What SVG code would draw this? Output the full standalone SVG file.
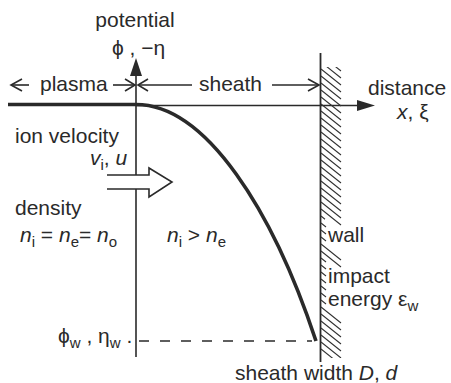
<svg xmlns="http://www.w3.org/2000/svg" width="451" height="383" viewBox="0 0 451 383">
<style>
text{font-family:"Liberation Sans","DejaVu Sans",Arial,sans-serif;font-size:21px;fill:#2a2a2a}
.it{font-style:italic}
.sub{font-size:15px}
.ln{stroke:#2a2a2a;stroke-width:1.6;fill:none}
.hat{stroke:#333;stroke-width:1.1;fill:none}
.chev{stroke:#2a2a2a;stroke-width:1.6;fill:none;stroke-linejoin:miter}
</style>
<defs>
<clipPath id="hc"><rect x="321" y="67" width="21" height="291"/></clipPath>
</defs>
<rect width="451" height="383" fill="#fff"/>

<g id="connectors">
<!-- vertical axis -->
<line class="ln" x1="136" y1="72" x2="136" y2="357"/>
<polygon points="136,58 130,76 142,76" fill="#2a2a2a"/>
<!-- horizontal axis -->
<line class="ln" x1="136" y1="105.5" x2="360" y2="105.5"/>
<polygon points="375,105.5 357,100 357,111" fill="#2a2a2a"/>
<!-- potential curve -->
<path d="M8,104.5 L136,104.5 C206,104.5 273,211 316,341" stroke="#2a2a2a" stroke-width="3.6" fill="none"/>
<!-- dashed level -->
<line x1="139" y1="341" x2="312" y2="341" stroke="#2a2a2a" stroke-width="1.6" stroke-dasharray="10,11"/>
<!-- plasma arrows -->
<line class="ln" x1="11" y1="85" x2="29" y2="85"/>
<path class="chev" d="M22,79 L11,85 L22,91"/>
<line class="ln" x1="113" y1="85" x2="135" y2="85"/>
<path class="chev" d="M125,79 L135,85 L125,91"/>
<!-- sheath arrows -->
<line class="ln" x1="138" y1="85" x2="192" y2="85"/>
<path class="chev" d="M148,79 L138,85 L148,91"/>
<line class="ln" x1="272" y1="85" x2="319" y2="85"/>
<path class="chev" d="M308,79 L319,85 L308,91"/>
<!-- block arrow -->
<polygon points="107,175 149,175 149,168 172,182 149,197 149,189 107,189" fill="#fff" stroke="none"/>
<path class="ln" stroke-width="2" d="M107,175 L149,175 L149,168 L172,182 L149,197 L149,189 L107,189"/>
</g>

<g id="wall">
<line x1="320.5" y1="53" x2="320.5" y2="362" stroke="#2a2a2a" stroke-width="1.8"/>
<g clip-path="url(#hc)">
<path class="hat" d="M321,55l20,16M321,62l20,16M321,69l20,16M321,76l20,16M321,83l20,16M321,90l20,16M321,97l20,16M321,104l20,16M321,111l20,16M321,118l20,16M321,125l20,16M321,132l20,16M321,139l20,16M321,146l20,16M321,153l20,16M321,160l20,16M321,167l20,16M321,174l20,16M321,181l20,16M321,188l20,16M321,195l20,16M321,202l20,16M321,209l20,16M321,216l4,3.2M321,223l5,4M321,230l5,4M321,237l5,4M321,244l20,16M321,251l20,16M321,258l5,4M321,265l5,4M321,272l5,4M321,279l5,4M321,286l5,4M321,293l5,4M321,300l5,4M321,307l20,16M321,314l20,16M321,321l20,16M321,328l20,16M321,335l20,16M321,342l20,16M321,349l20,16"/>
</g>
</g>

<g id="labels">
<text x="135" y="27" text-anchor="middle">potential</text>
<text x="112" y="55">ϕ , −η</text>
<text x="40" y="91">plasma</text>
<text x="199" y="91">sheath</text>
<text x="368" y="95">distance</text>
<text x="397" y="119"><tspan class="it">x</tspan>, ξ</text>
<text x="15" y="143">ion velocity</text>
<text x="90" y="165"><tspan class="it">v</tspan><tspan class="sub" dy="5">i</tspan><tspan dy="-5">, </tspan><tspan class="it">u</tspan></text>
<text x="15" y="215">density</text>
<text x="20" y="242"><tspan class="it">n</tspan><tspan class="sub" dy="5">i</tspan><tspan dy="-5"> = </tspan><tspan class="it">n</tspan><tspan class="sub" dy="5">e</tspan><tspan dy="-5">= </tspan><tspan class="it">n</tspan><tspan class="sub" dy="5">o</tspan></text>
<text x="167" y="242"><tspan class="it">n</tspan><tspan class="sub" dy="5">i</tspan><tspan dy="-5"> &gt; </tspan><tspan class="it">n</tspan><tspan class="sub" dy="5">e</tspan></text>
<text x="328" y="242">wall</text>
<text x="328" y="283">impact</text>
<text x="328" y="306">energy ε<tspan class="sub" dy="5">w</tspan></text>
<text x="58" y="343">ϕ<tspan class="sub" dy="5">w</tspan><tspan dy="-5"> , η</tspan><tspan class="sub" dy="5">w</tspan><tspan dy="-5"> .</tspan></text>
<text x="235" y="380">sheath width <tspan class="it">D</tspan>, <tspan class="it">d</tspan></text>
</g>
</svg>
